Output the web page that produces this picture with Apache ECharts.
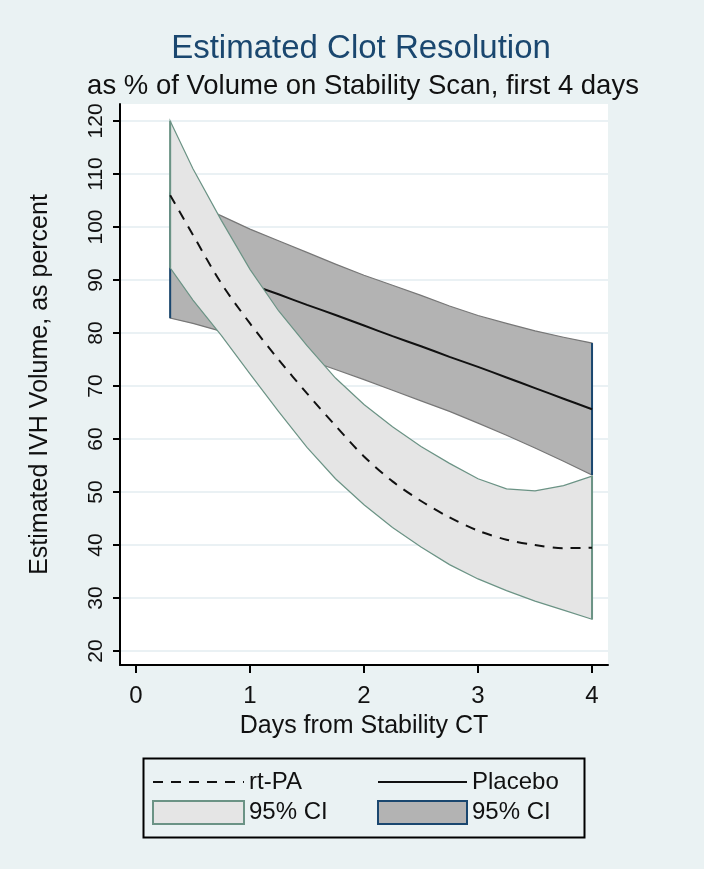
<!DOCTYPE html>
<html>
<head>
<meta charset="utf-8">
<title>Estimated Clot Resolution</title>
<script src="https://cdn.jsdelivr.net/npm/echarts@6/dist/echarts.min.js"></script>
<style>
  html, body { margin: 0; padding: 0; background: #eaf2f3; }
  #chart { width: 704px; height: 869px; }
</style>
</head>
<body>
<div id="chart"></div>
<script>
// days after the stability scan
const days = [0.3, 0.5, 0.75, 1, 1.25, 1.5, 1.75, 2, 2.25, 2.5, 2.75, 3, 3.25, 3.5, 3.75, 4];
const rtpaEst = [106, 98.5, 89.3, 81.8, 75.0, 68.6, 62.5, 56.7, 52.0, 48.3, 45.2, 42.7, 41.0, 40.0, 39.4, 39.5];
const rtpaLo = [92.3, 86.2, 79.5, 72.3, 65.2, 58.4, 52.5, 47.6, 43.3, 39.6, 36.3, 33.6, 31.4, 29.4, 27.7, 26.0];
const rtpaHi = [120, 111, 101.2, 92, 84.2, 77.6, 71.5, 66.5, 62.3, 58.6, 55.4, 52.5, 50.6, 50.2, 51.2, 53];
const placeboEst = [94.3, 92.9, 91.2, 89.2, 87.3, 85.3, 83.4, 81.4, 79.4, 77.5, 75.5, 73.6, 71.6, 69.6, 67.6, 65.6];
const placeboLo = [82.8, 81.8, 80.3, 78.6, 76.8, 75.0, 73.1, 71.2, 69.2, 67.2, 65.2, 63.0, 60.7, 58.3, 55.8, 53.2];
const placeboHi = [106.5, 104.5, 102.1, 99.6, 97.4, 95.2, 93.0, 90.9, 89.0, 87.1, 85.1, 83.3, 81.8, 80.4, 79.2, 78.1];

const xTicks = [0, 1, 2, 3, 4];
const yTicks = [20, 30, 40, 50, 60, 70, 80, 90, 100, 110, 120];

const FONT = "'Liberation Sans', Arial, sans-serif";
const THEME = {
  bg: '#eaf2f3',
  title: '#1a476f',
  grid: '#e3edf0',
  rtpaFill: '#e5e5e5',
  rtpaEdge: '#6b9385',
  placeboFill: '#b3b3b3',
  placeboEdge: '#777777',
  placeboEnd: '#1a476f',
};

/** CI band as one polygon, drawn once from the first data item */
function bandSeries(name, lo, hi, fill, edge, endEdge, z) {
  return {
    name,
    type: 'custom',
    z,
    data: days.map((d, i) => [d, lo[i], hi[i]]),
    encode: { x: 0, y: [1, 2] },
    itemStyle: { color: fill },
    silent: true,
    renderItem(params, api) {
      if (params.dataIndex !== 0) return;
      const top = days.map((d, i) => api.coord([d, hi[i]]));
      const bot = days.map((d, i) => api.coord([d, lo[i]]));
      const n = days.length - 1;
      const endLine = (a, b) => ({
        type: 'line',
        shape: { x1: a[0], y1: a[1], x2: b[0], y2: b[1] },
        style: { stroke: endEdge, lineWidth: 2 },
      });
      return {
        type: 'group',
        children: [
          {
            type: 'polygon',
            shape: { points: top.concat(bot.slice().reverse()) },
            style: { fill, stroke: edge, lineWidth: 1.2 },
          },
          endLine(top[0], bot[0]),
          endLine(top[n], bot[n]),
        ],
      };
    },
  };
}

function lineSeries(name, values, type, z) {
  return {
    name,
    type: 'line',
    z,
    data: days.map((d, i) => [d, values[i]]),
    symbol: 'none',
    smooth: 0.3,
    silent: true,
    lineStyle: { color: '#111', width: 2, type },
    itemStyle: { color: '#111' },
  };
}

const legendText = { fontSize: 24, color: '#111', fontFamily: FONT, lineHeight: 24 };
// hide the marker that ECharts puts in the middle of a line legend icon
const noMarker = { color: 'rgba(0,0,0,0)', borderWidth: 0, opacity: 0 };

const chart = echarts.init(document.getElementById('chart'));
chart.setOption({
  backgroundColor: THEME.bg,
  animation: false,
  title: [
    {
      text: 'Estimated Clot Resolution',
      left: 356, top: 27, textAlign: 'center',
      textStyle: { fontSize: 33, fontWeight: 'normal', color: THEME.title, fontFamily: FONT },
    },
    {
      text: 'as % of Volume on Stability Scan, first 4 days',
      left: 358, top: 67, textAlign: 'center',
      textStyle: { fontSize: 27.5, fontWeight: 'normal', color: '#111', fontFamily: FONT },
    },
  ],
  grid: {
    left: 120, right: 96, top: 104, bottom: 204,
    show: true, backgroundColor: '#fff', borderWidth: 0,
  },
  xAxis: {
    type: 'value',
    min: -0.14, max: 4.14,
    name: 'Days from Stability CT',
    nameLocation: 'middle',
    nameGap: 49,
    nameTextStyle: { fontSize: 25, color: '#111', fontFamily: FONT },
    axisLine: { show: true, onZero: false, lineStyle: { color: '#000', width: 2 } },
    axisTick: { show: true, length: 8, customValues: xTicks, lineStyle: { color: '#000', width: 2 } },
    axisLabel: { customValues: xTicks, margin: 19, fontSize: 24, color: '#111', fontFamily: FONT },
    splitLine: { show: false },
  },
  yAxis: {
    type: 'value',
    min: 17.36, max: 123.2,
    name: 'Estimated IVH Volume, as percent',
    nameLocation: 'middle',
    nameGap: 67,
    nameRotate: 90,
    nameTextStyle: { fontSize: 25, color: '#111', fontFamily: FONT },
    axisLine: { show: true, onZero: false, lineStyle: { color: '#000', width: 2 } },
    axisTick: { show: true, length: 7, customValues: yTicks, lineStyle: { color: '#000', width: 2 } },
    axisLabel: { customValues: yTicks, rotate: 90, margin: 13, fontSize: 21, color: '#111', fontFamily: FONT },
    splitLine: { show: true, lineStyle: { color: THEME.grid, width: 1.5 } },
  },
  legend: [
    {
      orient: 'vertical',
      left: 147, top: 765,
      itemWidth: 91, itemHeight: 23, itemGap: 6,
      selectedMode: false,
      textStyle: legendText,
      formatter: name => (name.indexOf('CI') >= 0 ? '95% CI' : name),
      data: [
        { name: 'rt-PA', itemStyle: noMarker },
        { name: 'rt-PA CI', icon: 'rect', itemStyle: { color: THEME.rtpaFill, borderColor: THEME.rtpaEdge, borderWidth: 2 } },
      ],
    },
    {
      orient: 'vertical',
      left: 372, top: 765,
      itemWidth: 89, itemHeight: 23, itemGap: 6,
      selectedMode: false,
      textStyle: legendText,
      formatter: name => (name.indexOf('CI') >= 0 ? '95% CI' : name),
      data: [
        { name: 'Placebo', itemStyle: noMarker },
        { name: 'Placebo CI', icon: 'rect', itemStyle: { color: THEME.placeboFill, borderColor: THEME.placeboEnd, borderWidth: 2 } },
      ],
    },
  ],
  graphic: [
    {
      type: 'rect',
      left: 141, top: 756,
      shape: { width: 441, height: 79 },
      style: { fill: 'none', stroke: '#000', lineWidth: 2 },
      silent: true,
    },
  ],
  series: [
    bandSeries('Placebo CI', placeboLo, placeboHi, THEME.placeboFill, THEME.placeboEdge, THEME.placeboEnd, 1),
    lineSeries('Placebo', placeboEst, 'solid', 2),
    bandSeries('rt-PA CI', rtpaLo, rtpaHi, THEME.rtpaFill, THEME.rtpaEdge, THEME.rtpaEdge, 3),
    lineSeries('rt-PA', rtpaEst, [10, 8], 4),
  ],
});
</script>
</body>
</html>
